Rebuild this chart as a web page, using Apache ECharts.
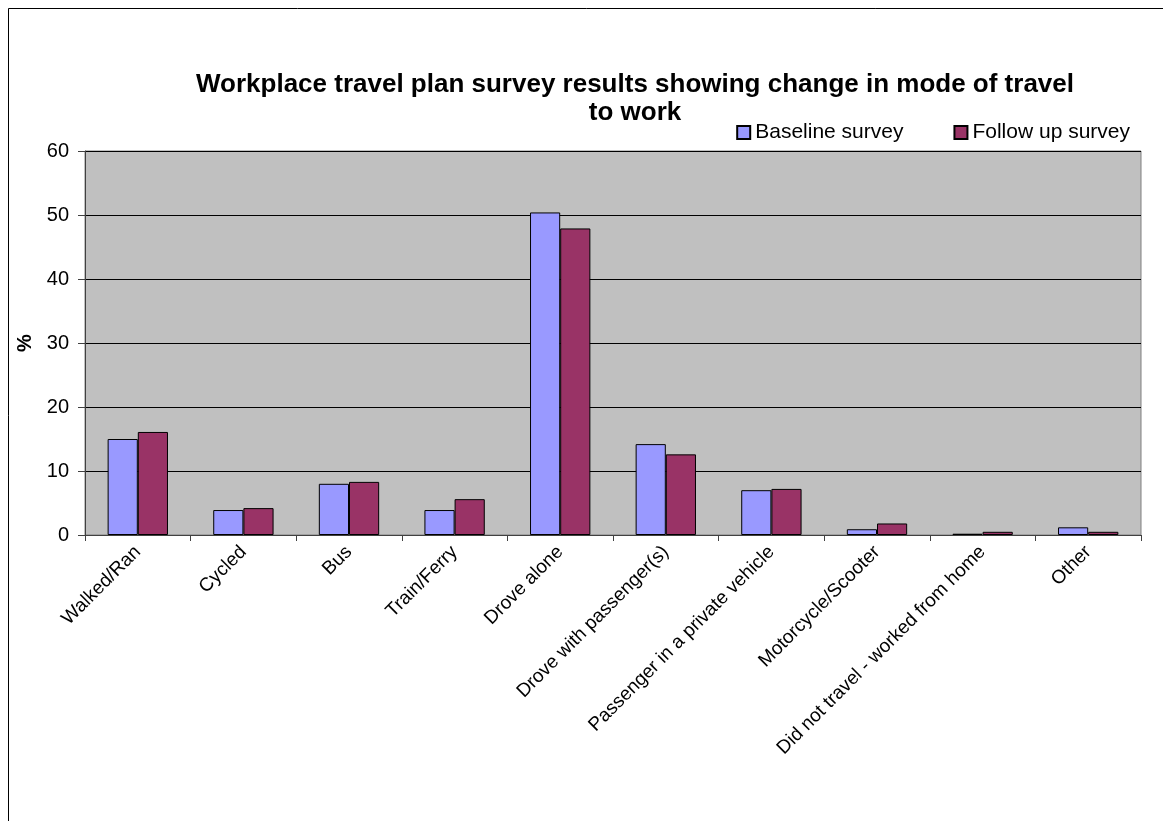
<!DOCTYPE html>
<html>
<head>
<meta charset="utf-8">
<script src="https://cdn.jsdelivr.net/npm/echarts@6/dist/echarts.min.js"></script>
<style>
html,body{margin:0;padding:0;background:#fff;}
#chart{width:1163px;height:821px;}
</style>
</head>
<body>
<div id="chart"></div>
<script>
const categories = ["Walked/Ran","Cycled","Bus","Train/Ferry","Drove alone","Drove with passenger(s)","Passenger in a private vehicle","Motorcycle/Scooter","Did not travel - worked from home","Other"];
const baseline = [15.0, 3.9, 8.0, 3.9, 50.4, 14.2, 7.0, 0.9, 0.2, 1.2];
const followUp = [16.1, 4.2, 8.3, 5.6, 47.9, 12.6, 7.2, 1.8, 0.5, 0.5];
const yTicks = [0, 10, 20, 30, 40, 50, 60];
const seriesNames = ["Baseline survey", "Follow up survey"];
const titleText = "Workplace travel plan survey results showing change in mode of travel\nto work";

const chart = echarts.init(document.getElementById('chart'));
const font = "'Liberation Sans', Arial, sans-serif";
chart.setOption({
  animation: false,
  backgroundColor: '#fff',
  title: {
    text: titleText,
    left: 630, top: 66, textAlign: 'center',
    textStyle: {fontFamily: font, fontWeight: 'bold', fontSize: 26, lineHeight: 28, color: '#000'}
  },
  legend: {
    data: seriesNames,
    right: 28, top: 117,
    itemWidth: 13, itemHeight: 13, itemGap: 50,
    textStyle: {fontFamily: font, fontSize: 21, color: '#000'},
    icon: 'rect'
  },
  graphic: [{
    type: 'rect', shape: {x: 8.5, y: 8.5, width: 1400, height: 1000},
    style: {fill: 'none', stroke: '#000', lineWidth: 1}, silent: true
  }],
  grid: {left: 85, top: 151, right: 22, bottom: 286, show: true, backgroundColor: '#C0C0C0', borderColor: '#808080', borderWidth: 1},
  xAxis: {
    type: 'category', data: categories,
    axisLine: {lineStyle: {color: '#404040', width: 1}},
    axisTick: {show: true, length: 6, lineStyle: {color: '#404040'}},
    axisLabel: {rotate: 45, fontFamily: font, fontSize: 19, color: '#000', interval: 0, margin: 14}
  },
  yAxis: {
    type: 'value', min: yTicks[0], max: yTicks[yTicks.length-1], interval: 10,
    name: '%', nameLocation: 'middle', nameGap: 47, nameRotate: 90,
    nameTextStyle: {fontFamily: font, fontWeight: 'bold', fontSize: 20, color: '#000'},
    axisLine: {show: true, lineStyle: {color: '#404040'}},
    axisTick: {show: true, length: 7, lineStyle: {color: '#404040'}},
    axisLabel: {fontFamily: font, fontSize: 20, color: '#000', margin: 16},
    splitLine: {lineStyle: {color: '#000', width: 1}}
  },
  series: [
    {name: seriesNames[0], type: 'bar', data: baseline, barGap: '0%', barCategoryGap: '42.86%',
     itemStyle: {color: '#9999FF', borderColor: '#000', borderWidth: 1}},
    {name: seriesNames[1], type: 'bar', data: followUp, barGap: '0%', barCategoryGap: '42.86%',
     itemStyle: {color: '#993366', borderColor: '#000', borderWidth: 1}}
  ]
});
</script>
</body>
</html>
